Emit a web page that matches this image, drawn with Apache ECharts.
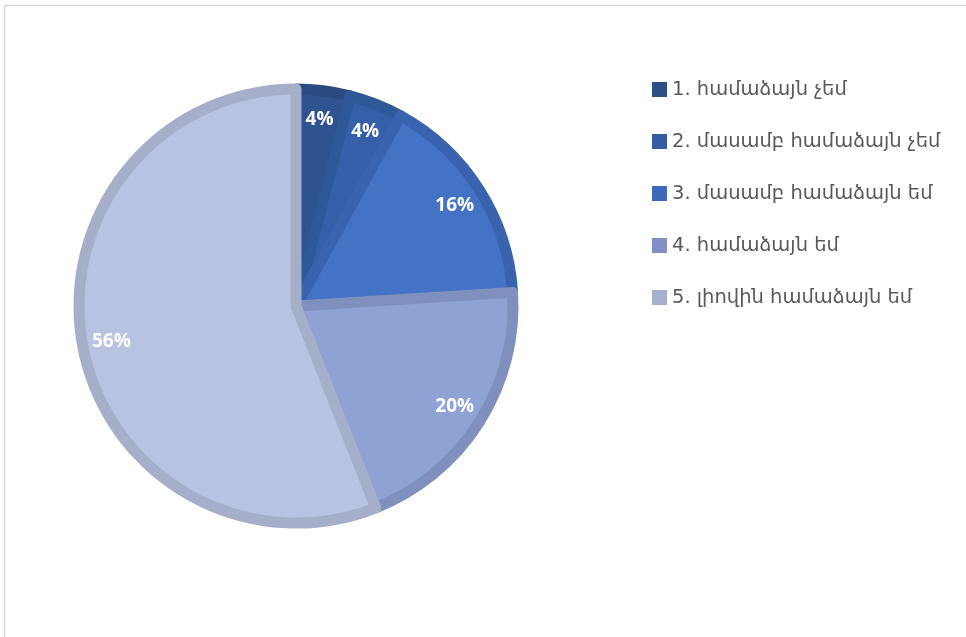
<!DOCTYPE html>
<html><head><meta charset="utf-8">
<script src="https://cdn.jsdelivr.net/npm/echarts@6/dist/echarts.min.js"></script>
<style>html,body{margin:0;padding:0;background:#fff}#c{width:966px;height:637px}</style>
</head><body><div id="c"></div>
<script>
const categories = ['1. համաձայն չեմ','2. մասամբ համաձայն չեմ','3. մասամբ համաձայն եմ','4. համաձայն եմ','5. լիովին համաձայն եմ'];
const values = [4, 4, 16, 20, 56];
const fillColors = ['#2F5290','#3560A9','#4472C4','#8EA2D4','#B8C3E1'];
const borderColors = ['#2B4A80','#2F5898','#3A63AF','#7F90BE','#A6AFCA'];
const legendColors = ['#2E4E86','#345CA2','#3F69B8','#8090C2','#A6B0CE'];

const chart = echarts.init(document.getElementById('c'), null, {renderer:'canvas'});
chart.setOption({
  animation:false,
  graphic:[{type:'rect', shape:{x:4.5,y:5.5,width:2000,height:2000}, style:{fill:'none', stroke:'#D9D9D9', lineWidth:1.5}, silent:true}],
  legend:{
    orient:'vertical', left:647, top:73, itemWidth:15, itemHeight:15, itemGap:29, icon:'rect',
    textStyle:{color:'#595959', fontSize:19.5, fontFamily:'"DejaVu Sans", "Noto Sans", sans-serif', lineHeight:23},
    data: categories.map((n,i)=>({name:n, itemStyle:{color:legendColors[i], borderWidth:0}}))
  },
  series:[{
    type:'pie', center:[296,306], radius:[0,217], startAngle:90, clockwise:true,
    label:{show:false}, labelLine:{show:false},
    data: categories.map((n,i)=>({name:n, value:values[i], itemStyle:{color:fillColors[i], borderColor:borderColors[i], borderWidth:11}}))
  },{
    type:'pie', center:[296,306], radius:[150,220], startAngle:90, clockwise:true, silent:true,
    itemStyle:{color:'rgba(0,0,0,0)'},
    label:{show:true, position:'inside', formatter:'{c}%', color:'#fff', fontSize:19, fontWeight:'bold', fontFamily:'"Open Sans", sans-serif'},
    labelLine:{show:false},
    data: categories.map((n,i)=>({name:n, value:values[i]}))
  }]
});
</script></body></html>
